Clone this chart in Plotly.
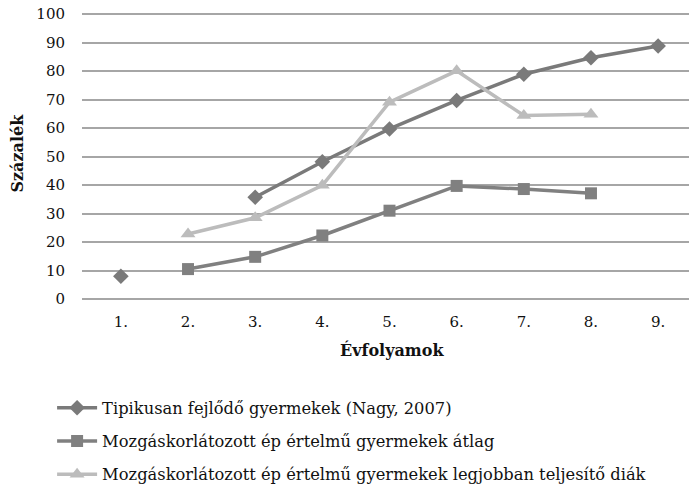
import plotly.graph_objects as go

categories = ["1.", "2.", "3.", "4.", "5.", "6.", "7.", "8.", "9."]
tipikusan = [8, None, 35.7, 48.2, 59.7, 69.7, 78.9, 84.7, 88.8]
atlag = [None, 10.5, 14.8, 22.3, 31.0, 39.7, 38.6, 37.1, None]
legjobban = [None, 22.8, 28.5, 39.9, 69.1, 80.1, 64.4, 64.9, None]
y_ticks = [0, 10, 20, 30, 40, 50, 60, 70, 80, 90, 100]

names = [
    "Tipikusan fejlődő gyermekek (Nagy, 2007)",
    "Mozgáskorlátozott ép értelmű gyermekek átlag",
    "Mozgáskorlátozott ép értelmű gyermekek legjobban teljesítő diák",
]
x_title = "Évfolyamok"
y_title = "Százalék"

fig = go.Figure()
fig.add_trace(go.Scatter(x=categories, y=tipikusan, name=names[0], mode="lines+markers",
                         line=dict(color="#7a7a7a", width=3.5),
                         marker=dict(symbol="diamond", size=12, color="#7a7a7a"),
                         legendgroup="a", connectgaps=False))
fig.add_trace(go.Scatter(x=categories, y=atlag, name=names[1], mode="lines+markers",
                         line=dict(color="#808080", width=3.5),
                         marker=dict(symbol="square", size=12, color="#808080"),
                         legendgroup="b", connectgaps=False))
fig.add_trace(go.Scatter(x=categories, y=legjobban, name=names[2], mode="lines+markers",
                         line=dict(color="#bcbcbc", width=3.5),
                         marker=dict(symbol="triangle-up", size=13, color="#bcbcbc"),
                         legendgroup="c", connectgaps=False))

font_family = "DejaVu Serif"
fig.update_layout(
    width=689, height=485,
    margin=dict(l=74, r=0, t=5, b=194, autoexpand=False),
    plot_bgcolor="white", paper_bgcolor="white",
    font=dict(family=font_family, size=15, color="#111111"),
    showlegend=True,
    legend=dict(orientation="v", xref="container", yref="container",
                x=0.064, y=0.211, xanchor="left", yanchor="top",
                font=dict(family=font_family, size=16.3, color="#111111"),
                tracegroupgap=9, itemwidth=40, bgcolor="rgba(0,0,0,0)"),
    xaxis=dict(type="category", categoryorder="array", categoryarray=categories,
               showgrid=False, showline=False, ticks="", zeroline=False,
               tickfont=dict(size=15), ticklabelstandoff=12),
    yaxis=dict(range=[0, 100.4], tickmode="array", tickvals=y_ticks,
               showgrid=True, gridcolor="#a6a6a6", gridwidth=2,
               zeroline=True, zerolinecolor="#a6a6a6", zerolinewidth=2,
               showline=False, ticks="", tickfont=dict(size=15), ticklabelstandoff=16,
               ticklabeloverflow="allow"),
    annotations=[
        dict(text="<b>" + x_title + "</b>", xref="paper", yref="paper", x=0.504, y=-0.179,
             xanchor="center", yanchor="middle", showarrow=False,
             font=dict(family=font_family, size=16)),
        dict(text="<b>" + y_title + "</b>", xref="paper", yref="paper", x=-0.1055, y=0.509,
             xanchor="center", yanchor="middle", showarrow=False, textangle=-90,
             font=dict(family=font_family, size=16)),
    ],
)
fig.write_html("out.html")
